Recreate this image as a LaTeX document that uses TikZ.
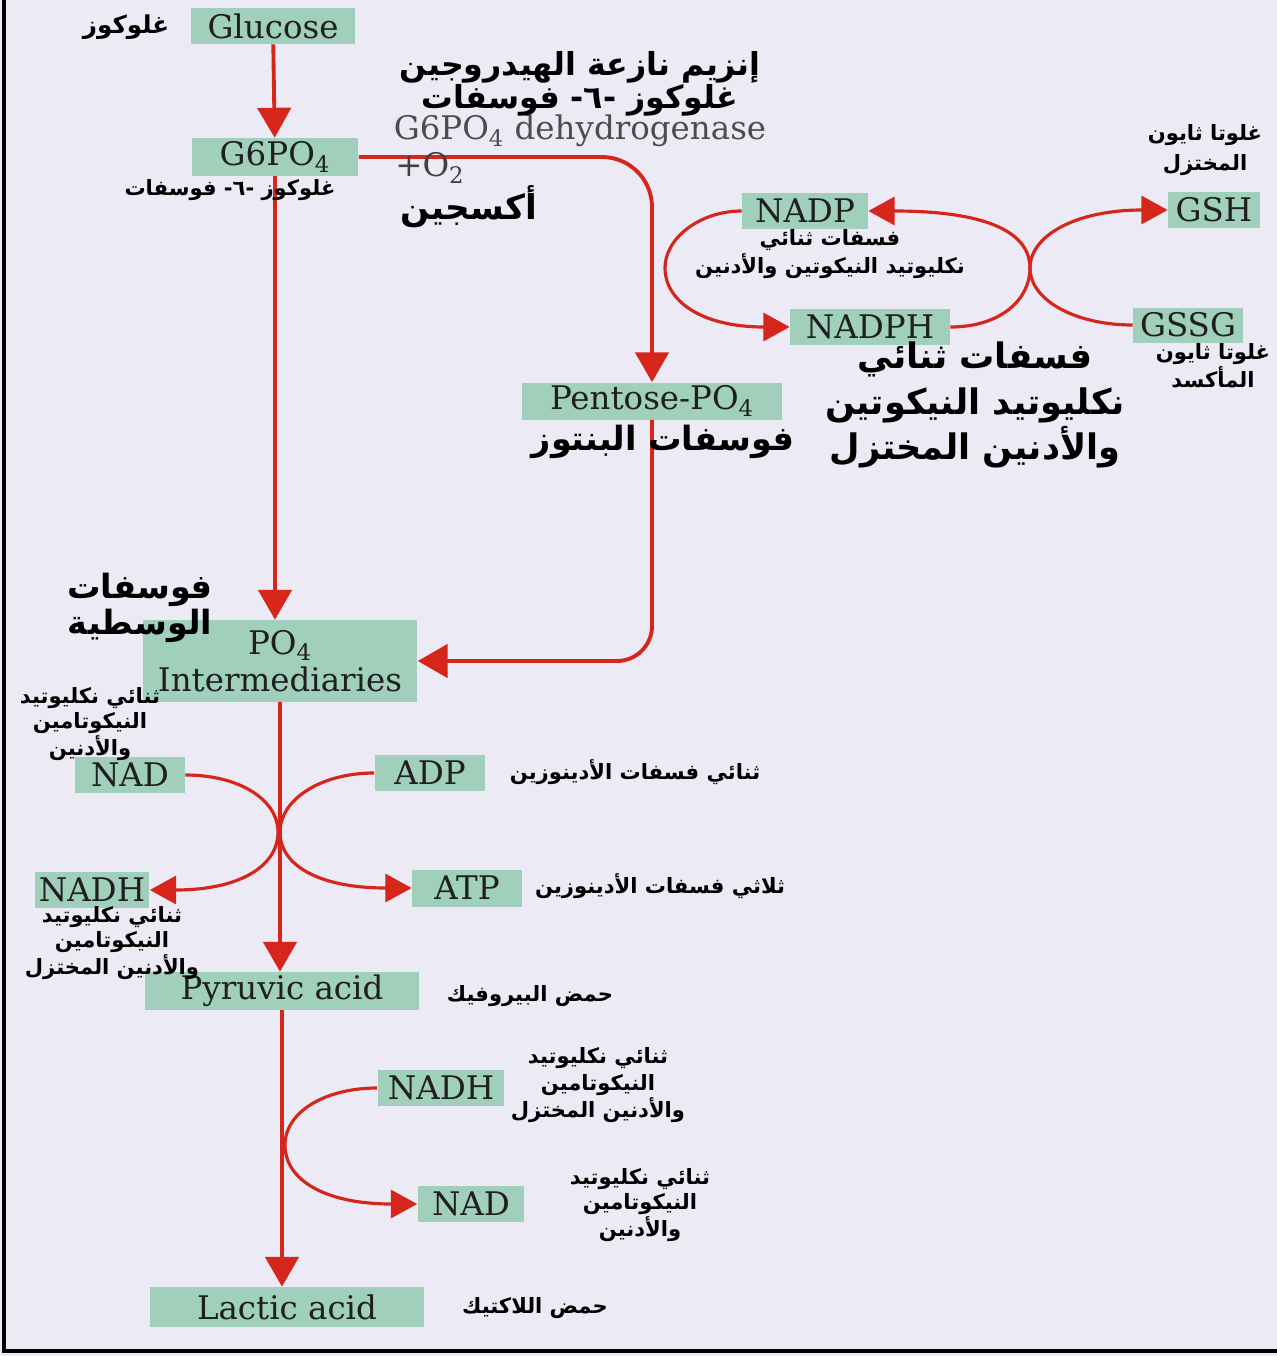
\documentclass[tikz,border=0pt]{standalone}
\usepackage{fontspec}
\setmainfont{DejaVu Serif}
\newfontfamily\arabicfont[Script=Arabic]{DejaVu Sans}
\usetikzlibrary{arrows.meta}
\TeXXeTstate=1
\newcommand{\artxt}[1]{\beginR #1\endR}
\definecolor{verdecaja}{RGB}{160,207,187}
\definecolor{rojo}{RGB}{214,38,28}
\definecolor{fondo}{RGB}{236,234,244}

\begin{document}
\begin{tikzpicture}[x=0.02cm, y=-0.02cm,
	caja/.style={fill=verdecaja, text=black!88, font=\fontsize{18.5}{21}\selectfont, inner sep=0pt, minimum height=0.72cm, align=center},
	ruta/.style={draw=rojo, line width=2.2pt, -{Triangle[width=19pt,length=17pt]}},
	ciclo/.style={draw=rojo, line width=1.8pt, -{Triangle[width=16pt,length=15pt]}},
	arS/.style={font=\arabicfont\bfseries\fontsize{12}{14}\selectfont, align=center, inner sep=0pt},
	arM/.style={font=\arabicfont\bfseries\fontsize{17}{19}\selectfont, align=center, inner sep=0pt},
	arL/.style={font=\arabicfont\bfseries\fontsize{20}{26}\selectfont, align=center, inner sep=0pt}]
	\useasboundingbox (0,0) rectangle (1277,1356);
	% Fondo y marco
		\fill[fondo] (0,0) rectangle (1277,1356);
		\draw[line width=2.3pt] (4,0) -- (4,1351) -- (1277,1351);

	% Cajas
		\node[caja, minimum width=3.3cm] (glucose) at (273,26) {Glucose};
		\node[caja, minimum width=3.34cm, minimum height=0.76cm] (g6po) at (275,157) {G6PO\textsubscript{4}};
		\node[caja, minimum width=2.52cm] (nadp) at (805,211) {NADP};
		\node[caja, minimum width=1.84cm] (gsh) at (1214,210) {GSH};
		\node[caja, minimum width=3.2cm] (nadph) at (870,327) {NADPH};
		\node[caja, minimum width=2.2cm, minimum height=0.7cm] (gssg) at (1188,325) {GSSG};
		\node[caja, minimum width=5.2cm, minimum height=0.74cm] (pentose) at (652,401) {Pentose-PO\textsubscript{4}};
		\node[caja, minimum width=5.5cm, minimum height=1.64cm] (inter) at (280,661) {PO\textsubscript{4}\\Intermediaries};
		\node[caja, minimum width=2.2cm] (nadl) at (130,775) {NAD};
		\node[caja, minimum width=2.22cm] (adp) at (430,773) {ADP};
		\node[caja, minimum width=2.3cm] (nadhl) at (92,890) {NADH};
		\node[caja, minimum width=2.2cm, minimum height=0.74cm] (atp) at (467,888) {ATP};
		\node[caja, minimum width=5.5cm, minimum height=0.76cm] (pyruvic) at (282,991) {Pyruvic acid};
		\node[caja, minimum width=2.54cm] (nadhr) at (441,1088) {NADH};
		\node[caja, minimum width=2.14cm] (nadr) at (471,1204) {NAD};
		\node[caja, minimum width=5.5cm, minimum height=0.8cm] (lactic) at (287,1307) {Lactic acid};

	% Via principal
		\draw[ruta] (glucose) -- (g6po);
		\draw[ruta] (g6po.south) -- (g6po.south |- inter.north);
		\draw[ruta] (inter.south) -- (inter.south |- pyruvic.north);
		\draw[ruta] (pyruvic.south) -- (pyruvic.south |- lactic.north);

	% Via de las pentosas
		\draw[ruta, rounded corners=1cm] (g6po.east) -- (pentose.north |- g6po.east) -- (pentose.north);
		\draw[ruta, rounded corners=0.7cm] (pentose.south) -- (pentose.south |- inter.east) -- (inter.east);

	% Ciclos NADP / glutation
		\draw[ciclo] (nadp.west) .. controls (700,211) and (665,238) .. (665,268) .. controls (665,300) and (700,327) .. (nadph.west);
		\draw[ciclo] (nadph.east) .. controls (1000,327) and (1030,300) .. (1030,268) .. controls (1030,236) and (995,211) .. (nadp.east);
		\draw[ciclo] (gssg.west) .. controls (1075,325) and (1030,300) .. (1030,268) .. controls (1030,236) and (1075,210) .. (gsh.west);

	% Ciclos NAD / ADP
		\draw[ciclo] (nadl.east) .. controls (240,775) and (278,800) .. (278,832) .. controls (278,866) and (240,890) .. (nadhl.east);
		\draw[ciclo] (adp.west) .. controls (320,773) and (280,800) .. (280,832) .. controls (280,866) and (320,888) .. (atp.west);
		\draw[ciclo] (nadhr.west) .. controls (325,1088) and (285,1112) .. (285,1145) .. controls (285,1180) and (325,1204) .. (nadr.west);

	% Textos en ingles
		\node[text=black!70, font=\fontsize{18.5}{21}\selectfont, inner sep=0pt] (enzima) at (580,131) {G6PO\textsubscript{4} dehydrogenase};
		\node[text=black!75, font=\fontsize{18.5}{21}\selectfont, anchor=west, inner sep=0pt] (oxigeno) at (395,168) {+O\textsubscript{2}};

	% Textos en arabe
		\node[arS, font=\arabicfont\bfseries\fontsize{14}{16}\selectfont] (lglucose) at (126,27) {\artxt{غلوكوز}};
		\node[arS] (lg6po) at (230,190) {\artxt{غلوكوز -٦- فوسفات}};
		\node[arM, font=\arabicfont\bfseries\fontsize{18}{16}\selectfont] (lenzima) at (580,84) {\artxt{إنزيم نازعة الهيدروجين}\\\artxt{غلوكوز -٦- فوسفات}};
		\node[arM, font=\arabicfont\bfseries\fontsize{19.5}{20}\selectfont] (loxigeno) at (469,207) {\artxt{أكسجين}};
		\node[arS, font=\arabicfont\bfseries\fontsize{12}{17}\selectfont] (lgsh) at (1205,150) {\artxt{غلوتا ثايون}\\\artxt{المختزل}};
		\node[arS, font=\arabicfont\bfseries\fontsize{12}{16}\selectfont] (lnadp) at (830,254) {\artxt{فسفات ثنائي}\\\artxt{نكليوتيد النيكوتين والأدنين}};
		\node[arS, font=\arabicfont\bfseries\fontsize{12}{16}\selectfont] (lgssg) at (1213,366) {\artxt{غلوتا ثايون}\\\artxt{المأكسد}};
		\node[arL] (lnadph) at (975,405) {\artxt{فسفات ثنائي}\\\artxt{نكليوتيد النيكوتين}\\\artxt{والأدنين المختزل}};
		\node[arL, font=\arabicfont\bfseries\fontsize{19}{24}\selectfont] (lpentose) at (663,442) {\artxt{فوسفات البنتوز}};
		\node[arM, font=\arabicfont\bfseries\fontsize{19}{19}\selectfont] (linter) at (140,608) {\artxt{فوسفات}\\\artxt{الوسطية}};
		\node[arS] (lnadl) at (90,724) {\artxt{ثنائي نكليوتيد}\\\artxt{النيكوتامين}\\\artxt{والأدنين}};
		\node[arS] (ladp) at (635,772) {\artxt{ثنائي فسفات الأدينوزين}};
		\node[arS] (latp) at (660,886) {\artxt{ثلاثي فسفات الأدينوزين}};
		\node[arS] (lnadhl) at (112,943) {\artxt{ثنائي نكليوتيد}\\\artxt{النيكوتامين}\\\artxt{والأدنين المختزل}};
		\node[arS] (lpyruvic) at (530,996) {\artxt{حمض البيروفيك}};
		\node[arS, font=\arabicfont\bfseries\fontsize{12}{15.5}\selectfont] (lnadhr) at (598,1085) {\artxt{ثنائي نكليوتيد}\\\artxt{النيكوتامين}\\\artxt{والأدنين المختزل}};
		\node[arS] (lnadr) at (640,1205) {\artxt{ثنائي نكليوتيد}\\\artxt{النيكوتامين}\\\artxt{والأدنين}};
		\node[arS] (llactic) at (535,1308) {\artxt{حمض اللاكتيك}};
\end{tikzpicture}
\end{document}
